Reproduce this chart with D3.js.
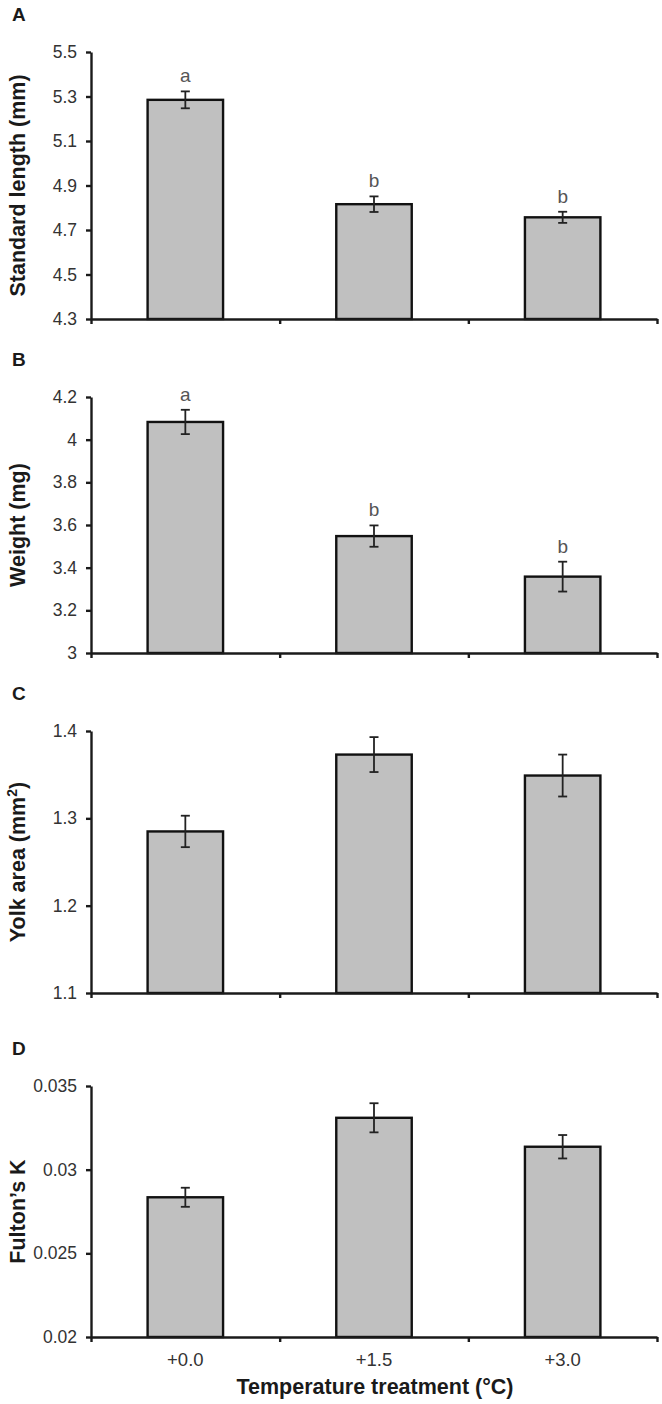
<!DOCTYPE html>
<html lang="en">
<head>
<meta charset="utf-8">
<title>Larval traits by temperature treatment</title>
<script src="https://d3js.org/d3.v7.min.js"></script>
<style>
	body { margin: 0; background: #fff; }
	text { font-family: "Liberation Sans", Arial, sans-serif; }
	.y.axis text { font-size: 17.5px; fill: #333; }
	.axis path, .axis line { stroke: #1a1a1a; stroke-width: 2.4; }
	.title { font-weight: bold; fill: #1a1a1a; font-size: 21.5px; }
	.plabel { font-weight: bold; fill: #1a1a1a; font-size: 19px; }
	.letter { font-size: 19px; fill: #555; }
	.xlabel { font-size: 18.5px; fill: #333; }
</style>
</head>
<body>
<div id="chart"></div>
<script>
	// Treatments on the x axis
	var categories = ["+0.0", "+1.5", "+3.0"];

	// A - standard length (mm)
	var lengthMean = [5.285, 4.816, 4.757];
	var lengthErr = [0.038, 0.035, 0.025];
	var lengthLetters = ["a", "b", "b"];
	var lengthTicks = [4.3, 4.5, 4.7, 4.9, 5.1, 5.3, 5.5];

	// B - weight (mg)
	var weightMean = [4.083, 3.548, 3.358];
	var weightErr = [0.057, 0.05, 0.07];
	var weightLetters = ["a", "b", "b"];
	var weightTicks = [3, 3.2, 3.4, 3.6, 3.8, 4, 4.2];

	// C - yolk area (mm2)
	var yolkMean = [1.285, 1.373, 1.349];
	var yolkErr = [0.018, 0.02, 0.024];
	var yolkTicks = [1.1, 1.2, 1.3, 1.4];

	// D - Fulton's K
	var fultonMean = [0.02835, 0.0331, 0.03137];
	var fultonErr = [0.00057, 0.00087, 0.0007];
	var fultonTicks = [0.02, 0.025, 0.03, 0.035];

	var w = 662, h = 1404;
	var left = 91, right = 657;

	var panels = [
		{ label: "A", title: "Standard length (mm)", mean: lengthMean, err: lengthErr, letters: lengthLetters, ticks: lengthTicks, top: 52, bottom: 319 },
		{ label: "B", title: "Weight (mg)", mean: weightMean, err: weightErr, letters: weightLetters, ticks: weightTicks, top: 397, bottom: 653 },
		{ label: "C", title: "Yolk area (mm", sup: "2", mean: yolkMean, err: yolkErr, letters: null, ticks: yolkTicks, top: 731, bottom: 993 },
		{ label: "D", title: "Fulton\u2019s K", mean: fultonMean, err: fultonErr, letters: null, ticks: fultonTicks, top: 1086, bottom: 1337 }
	];

	var svg = d3.select("#chart")
		.append("svg")
		.attr("width", w)
		.attr("height", h);

	var xBand = d3.scaleBand()
		.domain(categories)
		.range([left, right])
		.paddingInner(0.6)
		.paddingOuter(0.3);

	// boundaries between treatments for the x ticks
	var xEdge = d3.scaleLinear()
		.domain([0, categories.length])
		.range([left, right]);

	panels.forEach(function(p) {
		var g = svg.append("g");

		var y = d3.scaleLinear()
			.domain([p.ticks[0], p.ticks[p.ticks.length - 1]])
			.range([p.bottom, p.top]);

		var data = categories.map(function(c, i) {
			return { cat: c, mean: p.mean[i], err: p.err[i], letter: p.letters ? p.letters[i] : null };
		});

		// bars
		g.selectAll("rect")
			.data(data)
			.enter()
			.append("rect")
			.attr("x", function(d) { return xBand(d.cat); })
			.attr("y", function(d) { return y(d.mean); })
			.attr("width", xBand.bandwidth())
			.attr("height", function(d) { return p.bottom - y(d.mean); })
			.attr("fill", "#c0c0c0")
			.attr("stroke", "#111")
			.attr("stroke-width", 2.4);

		// error bars
		var eb = g.selectAll(".err")
			.data(data)
			.enter()
			.append("g")
			.attr("class", "err")
			.attr("stroke", "#222")
			.attr("stroke-width", 1.8);
		eb.append("line")
			.attr("x1", function(d) { return xBand(d.cat) + xBand.bandwidth() / 2; })
			.attr("x2", function(d) { return xBand(d.cat) + xBand.bandwidth() / 2; })
			.attr("y1", function(d) { return y(d.mean + d.err); })
			.attr("y2", function(d) { return y(d.mean - d.err); });
		[1, -1].forEach(function(s) {
			eb.append("line")
				.attr("x1", function(d) { return xBand(d.cat) + xBand.bandwidth() / 2 - 4.5; })
				.attr("x2", function(d) { return xBand(d.cat) + xBand.bandwidth() / 2 + 4.5; })
				.attr("y1", function(d) { return y(d.mean + s * d.err); })
				.attr("y2", function(d) { return y(d.mean + s * d.err); });
		});

		// significance letters
		if (p.letters) {
			g.selectAll(".letter")
				.data(data)
				.enter()
				.append("text")
				.attr("class", "letter")
				.attr("text-anchor", "middle")
				.attr("x", function(d) { return xBand(d.cat) + xBand.bandwidth() / 2; })
				.attr("y", function(d) { return y(d.mean + d.err) - 9; })
				.text(function(d) { return d.letter; });
		}

		// y axis
		g.append("g")
			.attr("class", "y axis")
			.attr("transform", "translate(" + left + ",0)")
			.call(d3.axisLeft(y)
				.tickValues(p.ticks)
				.tickSize(5)
				.tickSizeOuter(0)
				.tickPadding(9)
				.tickFormat(function(d) { return String(d); }));

		// x axis (ticks at treatment boundaries)
		g.append("g")
			.attr("class", "x axis")
			.attr("transform", "translate(0," + p.bottom + ")")
			.call(d3.axisBottom(xEdge)
				.tickValues(d3.range(categories.length + 1))
				.tickSize(5)
				.tickSizeOuter(0)
				.tickFormat(""));

		// y title
		var t = g.append("text")
			.attr("class", "title")
			.attr("text-anchor", "middle")
			.attr("transform", "rotate(-90)")
			.attr("x", -(p.top + p.bottom) / 2)
			.attr("y", 25)
			.text(p.title);
		if (p.sup) {
			t.append("tspan").attr("baseline-shift", "super").attr("font-size", "14px").text(p.sup);
			t.append("tspan").text(")");
		}

		// panel letter
		g.append("text")
			.attr("class", "plabel")
			.attr("x", 12)
			.attr("y", p.top - 31)
			.text(p.label);
	});

	// treatment labels under the last panel
	var last = panels[panels.length - 1];
	svg.selectAll(".xlabel")
		.data(categories)
		.enter()
		.append("text")
		.attr("class", "xlabel")
		.attr("text-anchor", "middle")
		.attr("x", function(d) { return xBand(d) + xBand.bandwidth() / 2; })
		.attr("y", last.bottom + 29)
		.text(function(d) { return d; });

	svg.append("text")
		.attr("class", "title")
		.attr("text-anchor", "middle")
		.attr("x", 375)
		.attr("y", 1394)
		.text("Temperature treatment (\u00b0C)");
</script>
</body>
</html>
